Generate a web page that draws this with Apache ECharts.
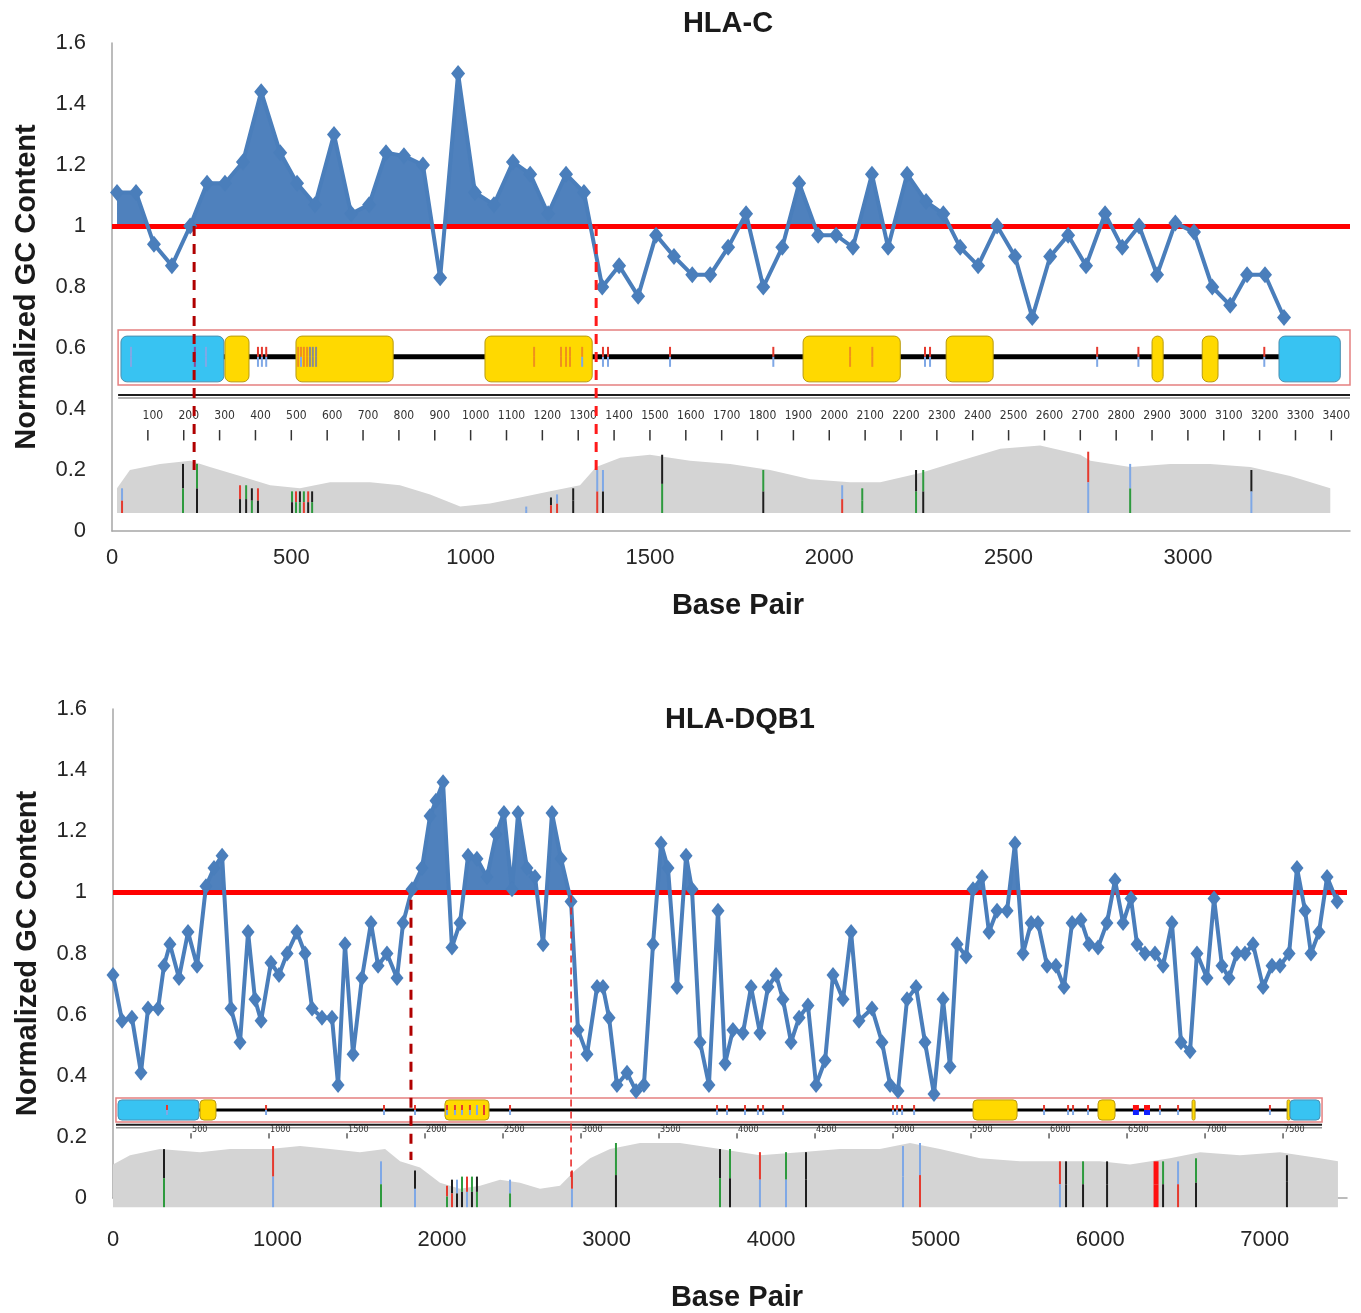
<!DOCTYPE html>
<html>
<head>
<meta charset="utf-8">
<title>Normalized GC content - HLA-C / HLA-DQB1</title>
<script src="https://cdn.jsdelivr.net/npm/echarts@6.0.0/dist/echarts.min.js"></script>
<style>
  html, body { margin: 0; padding: 0; background: #fff; }
  #chart { width: 1361px; height: 1313px; }
</style>
</head>
<body>
<div id="chart"></div>
<script>
// ---------- HLA-C (top panel), positions in base pairs ----------
const hlaCPos = [14,67,117,167,218,265,315,365,416,469,516,566,619,667,717,764,814,867,915,965,
  1012,1065,1118,1166,1216,1266,1316,1367,1414,1467,1517,1567,1618,1668,1718,1768,1816,1869,1916,1969,
  2019,2066,2119,2164,2217,2270,2318,2365,2415,2468,2518,2566,2616,2666,2716,2769,2817,2864,2914,2965,
  3017,3068,3118,3165,3215,3268];
const hlaCGc = [1.11,1.11,0.94,0.87,1.00,1.14,1.14,1.21,1.44,1.24,1.14,1.07,1.30,1.04,1.07,1.24,1.23,1.20,0.83,1.50,
  1.11,1.07,1.21,1.17,1.04,1.17,1.11,0.80,0.87,0.77,0.97,0.90,0.84,0.84,0.93,1.04,0.80,0.93,1.14,0.97,
  0.97,0.93,1.17,0.93,1.17,1.08,1.04,0.93,0.87,1.00,0.90,0.70,0.90,0.97,0.87,1.04,0.93,1.00,0.84,1.01,
  0.98,0.80,0.74,0.84,0.84,0.70];
// exon / UTR blocks: [start, end, kind] (u = UTR, e = exon)
const hlaCExons = [[25,312,'u'],[315,382,'e'],[513,784,'e'],[1040,1339,'e'],[1927,2198,'e'],
  [2326,2457,'e'],[2900,2931,'e'],[3040,3084,'e'],[3254,3425,'u']];
const hlaCSpan = [17, 3452];
const hlaCGeneSnps = [[53,'b'],[231,'p'],[262,'b'],[407,'rb'],[418,'rb'],[430,'rb'],[519,'o'],[527,'ob'],
  [535,'o'],[544,'o'],[552,'n'],[560,'n'],[569,'n'],[1177,'o'],[1252,'o'],[1266,'o'],[1277,'o'],[1311,'ob'],
  [1369,'rb'],[1383,'rb'],[1556,'rb'],[1844,'rb'],[2058,'o'],[2120,'o'],[2267,'rb'],[2281,'rb'],
  [2747,'rb'],[2862,'rb'],[3213,'rb']];
const hlaCRuler = [100,200,300,400,500,600,700,800,900,1000,1100,1200,1300,1400,1500,1600,1700,
  1800,1900,2000,2100,2200,2300,2400,2500,2600,2700,2800,2900,3000,3100,3200,3300,3400];
const hlaCProfPos = [14,50,134,218,273,357,441,524,608,720,803,887,971,1054,1138,1222,1305,1350,1417,1500,
  1612,1724,1835,1947,2058,2142,2254,2365,2477,2588,2700,2728,2839,2951,3062,3174,3285,3397];
const hlaCProfVal = [0.14,0.20,0.22,0.23,0.21,0.18,0.15,0.14,0.16,0.16,0.15,0.12,0.08,0.09,0.11,0.13,0.15,0.21,0.24,0.25,
  0.23,0.22,0.20,0.17,0.16,0.16,0.19,0.23,0.27,0.28,0.25,0.23,0.21,0.22,0.22,0.21,0.18,0.14];
const hlaCProfSnps = [[28,0.14,'br'],[198,0.22,'kg'],[237,0.22,'gk'],[357,0.15,'rk'],[374,0.15,'gk'],
  [390,0.14,'kg'],[407,0.14,'rk'],[502,0.13,'gk'],[513,0.13,'rg'],[524,0.13,'kg'],[535,0.13,'gr'],
  [547,0.13,'rk'],[558,0.13,'kg'],[1155,0.08,'bb'],[1224,0.11,'kr'],[1241,0.12,'br'],[1286,0.14,'kk'],
  [1353,0.20,'br'],[1369,0.20,'bk'],[1534,0.25,'kg'],[1816,0.20,'gk'],[2036,0.15,'br'],[2092,0.14,'gg'],
  [2242,0.20,'kg'],[2262,0.20,'gk'],[2722,0.26,'rb'],[2839,0.22,'bg'],[3177,0.20,'kb']];
const hlaCBounds = [229, 1350];

// ---------- HLA-DQB1 (bottom panel) ----------
const dqPos = [0,55,115,170,213,274,310,346,401,456,511,565,614,663,717,772,821,863,900,960,
  1009,1058,1118,1167,1210,1270,1331,1368,1410,1459,1513,1568,1611,1665,1726,1763,1817,1878,1927,1963,
  2006,2060,2109,2158,2212,2273,2328,2376,2425,2462,2516,2565,2614,2668,2723,2784,2826,2881,2942,2978,
  3015,3063,3124,3179,3227,3282,3331,3373,3428,3483,3519,3568,3622,3677,3720,3768,3829,3878,3932,3981,
  4030,4072,4121,4170,4224,4273,4328,4376,4437,4486,4534,4613,4674,4723,4771,4826,4881,4935,4990,5045,
  5087,5130,5185,5227,5282,5324,5373,5434,5482,5531,5580,5622,5677,5731,5780,5829,5883,5932,5987,6041,
  6090,6139,6187,6224,6272,6333,6382,6436,6491,6546,6588,6649,6692,6740,6783,6831,6880,6929,6990,7044,
  7093,7148,7196,7245,7281,7330,7379,7440];
const dqGc = [0.73,0.58,0.59,0.41,0.62,0.62,0.76,0.83,0.72,0.87,0.76,1.02,1.08,1.12,0.62,0.51,0.87,0.65,0.58,0.77,
  0.73,0.80,0.87,0.80,0.62,0.59,0.59,0.37,0.83,0.47,0.72,0.90,0.76,0.80,0.72,0.90,1.01,1.08,1.25,1.30,
  1.36,0.82,0.90,1.12,1.11,1.05,1.19,1.26,1.01,1.26,1.08,1.05,0.83,1.26,1.11,0.97,0.55,0.47,0.69,0.69,
  0.59,0.37,0.41,0.35,0.37,0.83,1.16,1.08,0.69,1.12,1.01,0.51,0.37,0.94,0.44,0.55,0.54,0.69,0.54,0.69,
  0.73,0.65,0.51,0.59,0.63,0.37,0.45,0.73,0.65,0.87,0.58,0.62,0.51,0.37,0.35,0.65,0.69,0.51,0.34,0.65,
  0.43,0.83,0.79,1.01,1.05,0.87,0.94,0.94,1.16,0.80,0.90,0.90,0.76,0.76,0.69,0.90,0.91,0.83,0.82,0.90,
  1.04,0.90,0.98,0.83,0.80,0.80,0.76,0.90,0.51,0.48,0.80,0.72,0.98,0.76,0.72,0.80,0.80,0.83,0.69,0.76,
  0.76,0.80,1.08,0.94,0.80,0.87,1.05,0.97];
// the gene map inset under DQB1 has its own (slightly smaller) bp scale
const dqExons = [[32,551,'u'],[558,660,'e'],[2128,2410,'e'],[5513,5795,'e'],[6314,6423,'e'],
  [6917,6936,'e'],[7526,7545,'e'],[7545,7737,'u']];
const dqSpan = [19, 7750];
const dqGeneSnps = [[346,'rb'],[981,'rb'],[1737,'rb'],[1936,'rb'],[2141,'rb'],[2192,'rb'],[2237,'rb'],
  [2288,'rb'],[2333,'b'],[2378,'r'],[2545,'rb'],[3872,'rb'],[3936,'rb'],[4051,'rb'],[4134,'rb'],[4167,'rb'],
  [4295,'rb'],[5000,'rb'],[5026,'rb'],[5058,'rb'],[5135,'rb'],[5968,'rb'],[6122,'rb'],[6154,'rb'],
  [6250,'rb'],[6557,'RB'],[6628,'RB'],[6711,'rb'],[6827,'rb'],[7416,'rb']];
const dqRuler = [500,1000,1500,2000,2500,3000,3500,4000,4500,5000,5500,6000,6500,7000,7500];
const dqProfPos = [0,109,301,558,750,1006,1199,1391,1583,1744,1840,1968,2096,2224,2353,2481,2609,2737,2865,2962,
  3058,3186,3378,3634,3891,4147,4404,4660,4916,5109,5301,5558,5814,6070,6327,6519,6775,6968,7224,7480,7737,7852];
const dqProfVal = [0.11,0.14,0.16,0.15,0.16,0.16,0.17,0.16,0.15,0.16,0.12,0.10,0.05,0.03,0.04,0.06,0.05,0.03,0.04,0.09,
  0.13,0.16,0.18,0.18,0.16,0.14,0.15,0.16,0.16,0.18,0.16,0.13,0.12,0.12,0.12,0.11,0.13,0.15,0.14,0.15,0.13,0.12];
const dqProfSnps = [[327,0.16,'kg'],[1026,0.17,'rb'],[1718,0.12,'bg'],[1936,0.09,'kb'],[2141,0.04,'rg'],
  [2173,0.06,'kr'],[2205,0.06,'bk'],[2237,0.07,'gk'],[2269,0.07,'rb'],[2301,0.07,'gk'],[2333,0.07,'kg'],
  [2545,0.06,'bg'],[2942,0.09,'rb'],[3224,0.18,'gk'],[3891,0.16,'kg'],[3955,0.16,'gk'],[4147,0.15,'rb'],
  [4314,0.15,'gb'],[4442,0.15,'kk'],[5064,0.17,'bb'],[5173,0.18,'br'],[6070,0.12,'rb'],[6109,0.12,'kk'],
  [6218,0.12,'gk'],[6372,0.12,'kk'],[6686,0.12,'RR'],[6731,0.12,'gk'],[6827,0.12,'br'],[6942,0.13,'gk'],
  [7525,0.14,'kk']];
const dqBounds = [1811, 2784];

const FONT = 'Arial, "Liberation Sans", sans-serif';
const NARROW = '"Liberation Sans Narrow", "DejaVu Sans Condensed", sans-serif';
const SNP_COLORS = {k:'#1e1e1e', g:'#2e9a3e', r:'#e53a2f', b:'#7fa8e6', o:'#f0901c', p:'#8e4a9a',
  n:'#8c8c8c', R:'#ff1010', B:'#1020ff'};
const BLUE = '#4a7ebb';

function pairs(xs, ys) {
  return xs.map((x, i) => [x, ys[i]]);
}

// area between the curve and 1 (only the part above 1 gets colour via visualMap)
function fillSeries(xs, ys, xi, yi) {
  return {
    type: 'line', xAxisIndex: xi, yAxisIndex: yi, z: 2, silent: true,
    data: pairs(xs, ys), symbol: 'none', lineStyle: {width: 0},
    areaStyle: {origin: 1, opacity: 1},
    markLine: {
      silent: true, symbol: 'none', label: {show: false},
      lineStyle: {color: '#ff0000', width: 5, type: 'solid'},
      data: [{yAxis: 1}]
    }
  };
}

function gcLine(xs, ys, xi, yi, size, width) {
  return {
    type: 'line', xAxisIndex: xi, yAxisIndex: yi, z: 5, silent: true,
    data: pairs(xs, ys), symbol: 'diamond', symbolSize: size, showAllSymbol: true,
    itemStyle: {color: BLUE}, lineStyle: {color: BLUE, width: width}
  };
}

function profileSeries(xs, ys, xi, yi, base) {
  return {
    type: 'line', xAxisIndex: xi, yAxisIndex: yi, z: 1, silent: true, clip: false,
    data: pairs(xs, ys), symbol: 'none', lineStyle: {width: 0},
    areaStyle: {color: '#d4d4d4', opacity: 1, origin: base}
  };
}

function profileMarks(list, xi, yi, base, w) {
  return {
    type: 'custom', xAxisIndex: xi, yAxisIndex: yi, z: 2, silent: true, clip: false,
    data: list.map(d => [d[0], d[1]]),
    renderItem: function (params, api) {
      const code = list[params.dataIndex][2];
      const top = api.coord([api.value(0), api.value(1)]);
      const bot = api.coord([api.value(0), base]);
      const mid = (top[1] + bot[1]) / 2;
      const bw = code[0] === 'R' ? w * 2.5 : w;
      return {type: 'group', children: [
        {type: 'rect', shape: {x: top[0] - bw / 2, y: top[1], width: bw, height: mid - top[1]},
          style: {fill: SNP_COLORS[code[0]]}},
        {type: 'rect', shape: {x: top[0] - bw / 2, y: mid, width: bw, height: bot[1] - mid},
          style: {fill: SNP_COLORS[code[1]]}}
      ]};
    }
  };
}

function geneFrame(span, xi, yi, L) {
  return {
    type: 'custom', xAxisIndex: xi, yAxisIndex: yi, z: 3, silent: true, clip: false,
    data: [[span[0], span[1]]],
    renderItem: function (params, api) {
      const a = api.coord([api.value(0), L.boxTop]);
      const b = api.coord([api.value(1), L.boxBot]);
      const iy = api.coord([0, L.intron])[1];
      const ry = api.coord([0, L.ruler])[1];
      return {type: 'group', children: [
        {type: 'rect', shape: {x: a[0], y: a[1], width: b[0] - a[0], height: b[1] - a[1]},
          style: {fill: '#fff', stroke: '#e58080', lineWidth: 1.5}},
        {type: 'line', shape: {x1: a[0] + 4, y1: iy, x2: b[0] - 10, y2: iy},
          style: {stroke: '#000', lineWidth: L.intronW}},
        {type: 'line', shape: {x1: a[0], y1: ry, x2: b[0], y2: ry},
          style: {stroke: '#1e1e1e', lineWidth: 2}},
        {type: 'line', shape: {x1: a[0], y1: ry + 3, x2: b[0], y2: ry + 3},
          style: {stroke: '#9a9a9a', lineWidth: 1.5}}
      ]};
    }
  };
}

function exonSeries(list, xi, yi, yTop, yBot, r) {
  return {
    type: 'custom', xAxisIndex: xi, yAxisIndex: yi, z: 3, silent: true, clip: false,
    data: list.map(d => [d[0], d[1]]),
    renderItem: function (params, api) {
      const a = api.coord([api.value(0), yTop]);
      const b = api.coord([api.value(1), yBot]);
      const utr = list[params.dataIndex][2] === 'u';
      return {type: 'rect',
        shape: {x: a[0], y: a[1], width: b[0] - a[0], height: b[1] - a[1], r: Math.min(r, (b[0] - a[0]) / 2)},
        style: {fill: utr ? '#38c3f2' : '#ffd900', stroke: utr ? '#4a8fb0' : '#b89a10', lineWidth: 1}};
    }
  };
}

function geneMarks(list, xi, yi, yc, h, w) {
  return {
    type: 'custom', xAxisIndex: xi, yAxisIndex: yi, z: 4, silent: true, clip: false,
    data: list.map(d => [d[0], yc]),
    renderItem: function (params, api) {
      const code = list[params.dataIndex][1];
      const c = api.coord([api.value(0), yc]);
      const bw = code[0] === 'R' ? w * 3 : w;
      const c1 = SNP_COLORS[code[0]];
      const c2 = SNP_COLORS[code[1] || code[0]];
      return {type: 'group', children: [
        {type: 'rect', shape: {x: c[0] - bw / 2, y: c[1] - h, width: bw, height: h}, style: {fill: c1}},
        {type: 'rect', shape: {x: c[0] - bw / 2, y: c[1], width: bw, height: h}, style: {fill: c2}}
      ]};
    }
  };
}

function rulerSeries(ticks, xi, yi, L) {
  return {
    type: 'custom', xAxisIndex: xi, yAxisIndex: yi, z: 3, silent: true, clip: false,
    data: ticks.map(t => [t, L.labelY]),
    renderItem: function (params, api) {
      const p = api.coord([api.value(0), L.tickTop]);
      const q = api.coord([api.value(0), L.tickBot]);
      const t = api.coord([api.value(0), L.labelY]);
      return {type: 'group', children: [
        {type: 'line', shape: {x1: p[0], y1: p[1], x2: q[0], y2: q[1]},
          style: {stroke: '#333', lineWidth: L.tickW}},
        {type: 'text', x: t[0] + L.dx, y: t[1],
          style: {text: String(api.value(0)), fill: '#333', font: L.font, align: L.align, verticalAlign: 'middle'}}
      ]};
    }
  };
}

function boundarySeries(bps, xi, yi, styles) {
  return {
    type: 'custom', xAxisIndex: xi, yAxisIndex: yi, z: 6, silent: true, clip: false,
    data: bps.map(b => [b, 1]),
    renderItem: function (params, api) {
      const s = styles[params.dataIndex];
      const p = api.coord([api.value(0), s.from]);
      const q = api.coord([api.value(0), s.to]);
      return {type: 'line', shape: {x1: p[0], y1: p[1], x2: q[0], y2: q[1]},
        style: {stroke: s.color, lineWidth: s.width, lineDash: s.dash}};
    }
  };
}

const series = [
  // top panel
  fillSeries(hlaCPos, hlaCGc, 0, 0),
  profileSeries(hlaCProfPos, hlaCProfVal, 0, 0, 0.059),
  profileMarks(hlaCProfSnps, 0, 0, 0.059, 2),
  geneFrame(hlaCSpan, 0, 0, {boxTop: 0.659, boxBot: 0.479, intron: 0.571, intronW: 5, ruler: 0.446}),
  exonSeries(hlaCExons, 0, 0, 0.639, 0.489, 6),
  geneMarks(hlaCGeneSnps, 0, 0, 0.571, 10, 2),
  rulerSeries(hlaCRuler, 0, 0, {labelY: 0.377, tickTop: 0.331, tickBot: 0.297, dx: 5, align: 'center',
    tickW: 1.5, font: '12px ' + NARROW}),
  gcLine(hlaCPos, hlaCGc, 0, 0, [14, 17], 4),
  boundarySeries(hlaCBounds, 0, 0, [
    {from: 1, to: 0.2, color: '#b00000', width: 3, dash: [10, 8]},
    {from: 1, to: 0.2, color: '#ff1a1a', width: 3, dash: [10, 8]}
  ]),
  // bottom panel
  fillSeries(dqPos, dqGc, 1, 1),
  profileSeries(dqProfPos, dqProfVal, 2, 1, -0.03),
  profileMarks(dqProfSnps, 2, 1, -0.03, 2),
  geneFrame(dqSpan, 2, 1, {boxTop: 0.327, boxBot: 0.249, intron: 0.288, intronW: 3, ruler: 0.24}),
  exonSeries(dqExons, 2, 1, 0.321, 0.255, 4),
  geneMarks(dqGeneSnps, 2, 1, 0.288, 5, 2),
  rulerSeries(dqRuler, 2, 1, {labelY: 0.224, tickTop: 0.212, tickBot: 0.195, dx: 1, align: 'left',
    tickW: 1.2, font: '9px ' + NARROW}),
  gcLine(dqPos, dqGc, 1, 1, [13, 16], 4),
  boundarySeries(dqBounds, 1, 1, [
    {from: 0.976, to: 0.124, color: '#b00000', width: 3, dash: [10, 8]},
    {from: 0.99, to: 0.069, color: '#e82020', width: 1.5, dash: [7, 5]}
  ])
];

// finite pieces so the visualMap produces colour stops (hard switch at GC = 1)
const fillPieces = [
  {gte: 0, lte: 1, color: 'rgba(79,129,189,0)'},
  {gt: 1, lte: 1.6, color: '#4f81bd'}
];

const axisName = {fontFamily: FONT, fontSize: 29, fontWeight: 'bold', color: '#1a1a1a'};
const xLabel = {fontFamily: FONT, fontSize: 22, color: '#262626', margin: 16, showMaxLabel: false,
  formatter: v => String(v)};

function xAxisOf(grid, max, interval, extra) {
  return Object.assign({
    gridIndex: grid, type: 'value', min: 0, max: max, interval: interval,
    name: 'Base Pair', nameLocation: 'middle', nameGap: 60,
    nameTextStyle: Object.assign({padding: [0, 0, 0, 14]}, axisName),
    axisLine: {show: true, lineStyle: {color: '#a6a6a6', width: 1.5}},
    axisTick: {show: false}, splitLine: {show: false},
    axisLabel: xLabel
  }, extra || {});
}

function yAxisOf(grid) {
  return {
    gridIndex: grid, type: 'value', min: 0, max: 1.6, interval: 0.2,
    name: 'Normalized GC Content', nameLocation: 'middle', nameGap: 71, nameTextStyle: axisName,
    axisLine: {show: true, lineStyle: {color: '#a6a6a6', width: 1.5}},
    axisTick: {show: false}, splitLine: {show: false},
    axisLabel: {fontFamily: FONT, fontSize: 22, color: '#262626', margin: 26}
  };
}

const titleStyle = {fontFamily: FONT, fontSize: 29, fontWeight: 'bold', color: '#1a1a1a'};

const chart = echarts.init(document.getElementById('chart'));
chart.setOption({
  animation: false,
  backgroundColor: '#fff',
  title: [
    {text: 'HLA-C', left: 728, top: 9, textAlign: 'center', padding: 0, textStyle: titleStyle},
    {text: 'HLA-DQB1', left: 740, top: 705, textAlign: 'center', padding: 0, textStyle: titleStyle}
  ],
  grid: [
    {left: 112, top: 43, width: 1238, height: 488},
    {left: 113, top: 709, width: 1234, height: 489}
  ],
  xAxis: [
    xAxisOf(0, 3452, 500),
    xAxisOf(1, 7500, 1000, {offset: 13, nameGap: 72, axisLabel: Object.assign({}, xLabel, {margin: 18})}),
    {gridIndex: 1, type: 'value', min: 0, max: 7910, show: false}
  ],
  yAxis: [yAxisOf(0), yAxisOf(1)],
  visualMap: [
    {type: 'piecewise', show: false, seriesIndex: 0, dimension: 1, pieces: fillPieces},
    {type: 'piecewise', show: false, seriesIndex: 9, dimension: 1, pieces: fillPieces}
  ],
  series: series
});
window.addEventListener('resize', function () {
  chart.resize();
});
</script>
</body>
</html>
